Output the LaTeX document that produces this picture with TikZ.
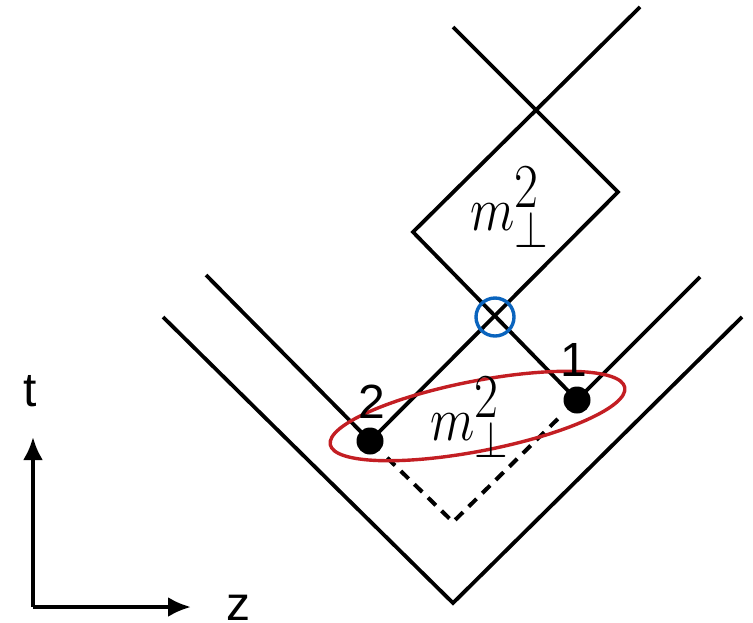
\documentclass[tikz,border=0pt]{standalone}
\usepackage{fontspec}
\setsansfont{Liberation Sans}
\usetikzlibrary{arrows.meta}
\definecolor{ringblue}{RGB}{10,100,190}
\definecolor{ellred}{RGB}{195,30,35}
\newcommand{\mperp}{$m^{\mbox{\fontsize{25}{27}\selectfont 2}}_{\perp}$}
\begin{document}
\begin{tikzpicture}[x=0.5pt,y=-0.5pt,
  wline/.style={line width=1.9pt, black},
  dashline/.style={line width=2pt, black, dash pattern=on 5.5pt off 4pt, shorten <=12pt, shorten >=12pt},
  dot/.style={circle, fill=black, inner sep=0pt, minimum size=13.5pt},
  num/.style={font=\sffamily\fontsize{24}{28}\selectfont, inner sep=0pt},
  mlabel/.style={font=\fontsize{24.88}{30}\selectfont, inner sep=0pt, anchor=base west, xscale=1.04, yscale=1.25},
  axis/.style={line width=2pt, -{Latex[length=11.5pt,width=10pt]}},
  ring/.style={ringblue, line width=1.7pt},
  ell/.style={ellred, line width=1.7pt}
]
\useasboundingbox (0,0) rectangle (753,622);

% key points
\coordinate (C) at (495,317);
\coordinate (R) at (618,192);
\coordinate (L) at (413,232);
\coordinate (A) at (453,27);
\coordinate (B) at (640,7);
\coordinate (E) at (700,277);
\coordinate (F) at (206,275);
\coordinate (G) at (163,317);
\coordinate (H) at (453,603);
\coordinate (I) at (742,317);
\coordinate (D) at (453,522);
\coordinate (Ec) at (477.5,416);

\node[dot] (P2) at (370,441) {};
\node[dot] (P1) at (577,400) {};

% outer V
\draw[wline] (G) -- (H) -- (I);
% world lines
\draw[wline] (F) -- (P2.center) -- (R) -- (A);
\draw[wline] (B) -- (L) -- (P1.center) -- (E);
% dashed V
\draw[dashline] (P2.center) -- (D) -- (P1.center);

% blue ring at crossing
\draw[ring] (C) circle[radius=9.5pt];

% red ellipse
\draw[ell, rotate around={11:(Ec)}] (Ec) ellipse [x radius=75pt, y radius=17.5pt];

% labels
\node[num] (n2) at (372,402) {2};
\node[num] (n1) at (574,360) {1};
\node[mlabel] (mup) at (470,230) {\mperp};
\node[mlabel] (mlow) at (430,440) {\mperp};

% axes
\coordinate (O) at (33,607);
\coordinate (Tt) at (33,437);
\coordinate (Tz) at (191,607);
\draw[axis] (O) -- (Tt);
\draw[axis] (O) -- (Tz);
\node[num] (t) at (30,391) {t};
\node[num] (z) at (238,608) {z};
\end{tikzpicture}
\end{document}
